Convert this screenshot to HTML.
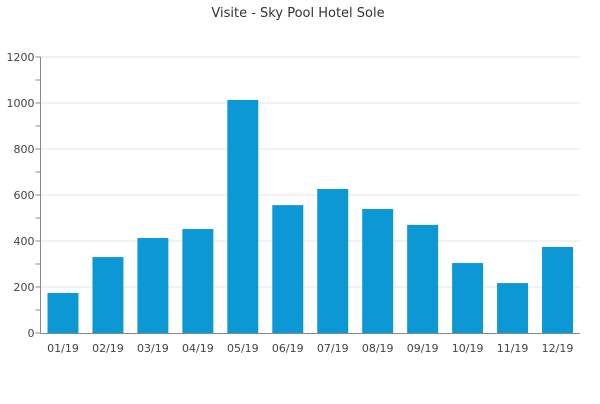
<!DOCTYPE html>
<html><head><meta charset="utf-8"><style>
body{margin:0;background:#fff;font-family:"DejaVu Sans",sans-serif}
</style></head><body>
<svg id="chart" width="600" height="400" xmlns="http://www.w3.org/2000/svg">
<text x="298" y="17" text-anchor="middle" font-size="13" fill="#333">Visite - Sky Pool Hotel Sole</text>
<g id="grid"></g><g id="bars"></g><g id="axes"></g>
</svg>
<script>
const categories=["01/19","02/19","03/19","04/19","05/19","06/19","07/19","08/19","09/19","10/19","11/19","12/19"];
const visits=[174,330,413,452,1013,556,626,539,470,304,217,374];
const yTicks=[0,200,400,600,800,1000,1200];
const X0=40.5,X1=580,Y0=333,Y1=57,YMAX=1200;
const ns="http://www.w3.org/2000/svg";
function y(v){return Y0-(v/YMAX)*(Y0-Y1);}
const bw=(X1-X0)/categories.length;
function x(i){return X0+i*bw;}
function mk(t,a,p){const e=document.createElementNS(ns,t);for(const k in a)e.setAttribute(k,a[k]);p.appendChild(e);return e;}
const grid=document.getElementById('grid'),bars=document.getElementById('bars'),axes=document.getElementById('axes');
yTicks.forEach(v=>{
  if(v>0){const g=mk('line',{x1:X0,x2:X1,y1:y(v),y2:y(v),stroke:'#e6e6e6'},grid);
  
  }
  const t=mk('text',{x:X0-6,y:y(v)+4,'text-anchor':'end','font-size':11,fill:'#444'},axes);
  t.textContent=v;
  
  
});
for(let v=0;v<=YMAX;v+=100){
  const tk=mk('line',{x1:X0-5,x2:X0,y1:y(v),y2:y(v),stroke:'#888'},axes);
  
  
}
const ya=mk('line',{x1:X0,x2:X0,y1:Y1,y2:Y0,stroke:'#888'},axes);


const xa=mk('line',{x1:X0,x2:X1,y1:Y0+0.5,y2:Y0+0.5,stroke:'#888'},axes);


categories.forEach((c,i)=>{
  const r=mk('rect',{x:x(i)+7,y:y(visits[i]),width:bw-14,height:Y0-y(visits[i]),fill:'#0b98d4'},bars);
  
  
  const t=mk('text',{x:x(i)+bw/2,y:352,'text-anchor':'middle','font-size':11,fill:'#444'},axes);
  t.textContent=c;
  
  
});
</script>
</body></html>
